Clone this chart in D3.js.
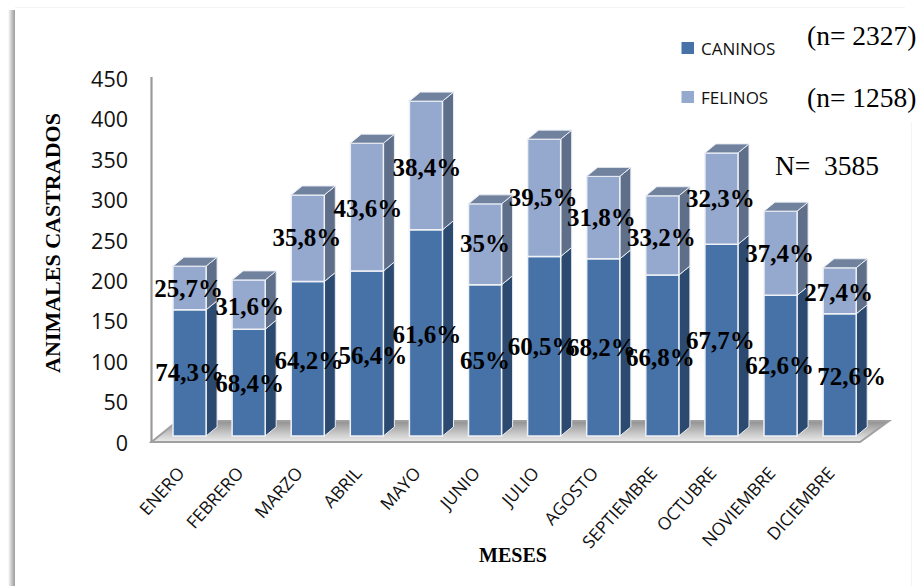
<!DOCTYPE html>
<html lang="es">
<head>
<meta charset="utf-8">
<style>
  html, body { margin: 0; padding: 0; background: #fff; }
  svg { display: block; }
  .serif { font-family: "Liberation Serif", serif; fill: #000; }
  .sans { font-family: "Open Sans", sans-serif; fill: #111; }
</style>
<script src="https://cdn.jsdelivr.net/npm/d3@7"></script>
</head>
<body>
<svg id="chart" width="919" height="586"></svg>
<script>
// Monthly neutering counts by species
const meses = ["ENERO", "FEBRERO", "MARZO", "ABRIL", "MAYO", "JUNIO", "JULIO", "AGOSTO", "SEPTIEMBRE", "OCTUBRE", "NOVIEMBRE", "DICIEMBRE"];
const caninos = [156, 132, 191, 204, 255, 187, 222, 219, 199, 237, 174, 151];
const felinos = [54, 61, 107, 158, 159, 100, 145, 102, 98, 113, 104, 57];
const pctCaninos = ["74,3%", "68,4%", "64,2%", "56,4%", "61,6%", "65%", "60,5%", "68,2%", "66,8%", "67,7%", "62,6%", "72,6%"];
const pctFelinos = ["25,7%", "31,6%", "35,8%", "43,6%", "38,4%", "35%", "39,5%", "31,8%", "33,2%", "32,3%", "37,4%", "27,4%"];
const ticks = [0, 50, 100, 150, 200, 250, 300, 350, 400, 450];

// Hand placement of the percentage labels, relative to each segment centre
const nudgeCaninos = [[0, -1], [1, 1], [1, 1], [6, 1.5], [1, 1], [0, 0], [-2, 0], [-2, 0], [-2, 1.5], [-1, 0], [-1, 0], [12, 1]];
const nudgeFelinos = [[-1, 0], [1, 1.5], [-1, -1], [1, 1], [1, 1.5], [0, -1], [-1, -1], [-2, 0], [-1, 1.5], [-1, 0], [-1, 0], [-1, 1]];

const svg = d3.select("#chart");
const defs = svg.append("defs");

// Shaded frame edge on the left of the panel
const edge = defs.append("linearGradient").attr("id", "edge");
edge.append("stop").attr("offset", 0).attr("stop-color", "#fff");
edge.append("stop").attr("offset", 0.55).attr("stop-color", "#c4c4c4");
edge.append("stop").attr("offset", 1).attr("stop-color", "#9c9c9c");

// Floor shading
const floor = defs.append("linearGradient").attr("id", "floor").attr("x1", 0).attr("x2", 0).attr("y1", 0).attr("y2", 1);
floor.append("stop").attr("offset", 0).attr("stop-color", "#8f8f8f");
floor.append("stop").attr("offset", 0.55).attr("stop-color", "#c4c4c4");
floor.append("stop").attr("offset", 1).attr("stop-color", "#ececec");

const x = d3.scaleBand().domain(meses).range([160, 869.2]).paddingInner(0.44).paddingOuter(0.22);
const y = d3.scaleLinear().domain([0, 450]).range([436, 72]);
const depthX = 11, depthY = 9;
const wallX = 151.5;
const poly = pts => d3.line()(pts) + "Z";

svg.append("rect").attr("x", 8).attr("y", 10).attr("width", 7).attr("height", 576).attr("fill", "url(#edge)");
svg.append("line").attr("x1", 15).attr("x2", 905).attr("y1", 7.5).attr("y2", 7.5).attr("stroke", "#f4f4f4");
svg.append("line").attr("x1", 911.5).attr("x2", 911.5).attr("y1", 122).attr("y2", 586).attr("stroke", "#f4f4f4");

// Floor and walls
const floorFront = y(0) + 6, floorBack = y(0) - 15;
const floorPts = [[wallX, floorFront], [860, floorFront], [889, floorBack], [wallX + 26, floorBack]];
svg.append("path").attr("d", poly(floorPts)).attr("fill", "url(#floor)").attr("stroke", "#a0a0a0").attr("stroke-width", 2);
svg.append("line").attr("x1", wallX).attr("x2", wallX).attr("y1", y(450) + 5).attr("y2", floorFront)
  .attr("stroke", "#9a9a9a").attr("stroke-width", 2.2);

// Draws one extruded segment from base value to top value
function segment(g, i, v0, v1, cFront, cSide) {
  const x0 = x(meses[i]), x1 = x0 + x.bandwidth();
  const yb = y(v0), yt = y(v1);
  g.append("path").attr("d", poly([[x1, yb], [x1 + depthX, yb - depthY], [x1 + depthX, yt - depthY], [x1, yt]]))
    .attr("fill", cSide).attr("stroke", "#e8ecf3").attr("stroke-width", 1);
  g.append("path").attr("d", poly([[x0, yb], [x1, yb], [x1, yt], [x0, yt]]))
    .attr("fill", cFront).attr("stroke", "#eef1f6").attr("stroke-width", 1.5);
}

const bars = svg.append("g");
meses.forEach((m, i) => {
  const c = caninos[i], t = c + felinos[i];
  const g = bars.append("g");
  segment(g, i, 0, c, "#4672a8", "#2c4a70");
  segment(g, i, c, t, "#95a9cf", "#5f6f8a");
  const x0 = x(m), x1 = x0 + x.bandwidth(), yt = y(t);
  g.append("path").attr("d", poly([[x0, yt], [x1, yt], [x1 + depthX, yt - depthY], [x0 + depthX, yt - depthY]]))
    .attr("fill", "#71829f").attr("stroke", "#e8ecf3").attr("stroke-width", 1);
});

// Value axis labels, no tick marks
svg.append("g").selectAll("text").data(ticks).join("text")
  .attr("class", "sans")
  .attr("x", 128).attr("y", d => y(d) + 7)
  .attr("dy", "0.36em").attr("text-anchor", "end")
  .style("font-size", "21.5px").text(d => d);

// Month labels, slanted
svg.append("g").selectAll("text").data(meses).join("text")
  .attr("class", "sans")
  .attr("text-anchor", "end")
  .attr("transform", d => `translate(${x(d) + x.bandwidth() / 2 - 4},${y(0) + 38}) rotate(-48)`)
  .style("font-size", "17.5px").text(d => d);

// Percentage labels, centred on their segments
const label = (txt, i, mid, nudge) => svg.append("text")
  .attr("class", "serif")
  .attr("x", x(meses[i]) + x.bandwidth() / 2 + nudge[0])
  .attr("y", y(mid) + nudge[1])
  .attr("dy", "0.35em").attr("text-anchor", "middle")
  .style("font-size", "25px").style("font-weight", "bold").text(txt);
meses.forEach((m, i) => {
  label(pctCaninos[i], i, caninos[i] / 2, nudgeCaninos[i]);
  label(pctFelinos[i], i, caninos[i] + felinos[i] / 2, nudgeFelinos[i]);
});

// Axis titles
svg.append("text").attr("class", "serif")
  .attr("transform", "translate(60,243) rotate(-90)").attr("text-anchor", "middle")
  .style("font-size", "22px").style("font-weight", "bold").text("ANIMALES CASTRADOS");
svg.append("text").attr("class", "serif")
  .attr("x", 513).attr("y", 562).attr("text-anchor", "middle")
  .style("font-size", "20px").style("font-weight", "bold").text("MESES");

// Legend and sample sizes
const legend = [["CANINOS", "#4672a8", 48], ["FELINOS", "#95a9cf", 97]];
legend.forEach(([name, col, cy]) => {
  svg.append("rect").attr("x", 681.5).attr("y", cy - 6).attr("width", 12.5).attr("height", 12).attr("fill", col);
  svg.append("text").attr("class", "sans").attr("x", 701).attr("y", cy + 7)
    .style("font-size", "17px").text(name);
});
const notes = [["(n= 2327)", 807, 45], ["(n= 1258)", 807, 107], ["N=  3585", 775, 175]];
notes.forEach(([t, tx, ty]) => {
  svg.append("text").attr("class", "serif").attr("x", tx).attr("y", ty)
    .style("white-space", "pre")
    .style("font-size", "27.5px").text(t);
});
</script>
</body>
</html>
